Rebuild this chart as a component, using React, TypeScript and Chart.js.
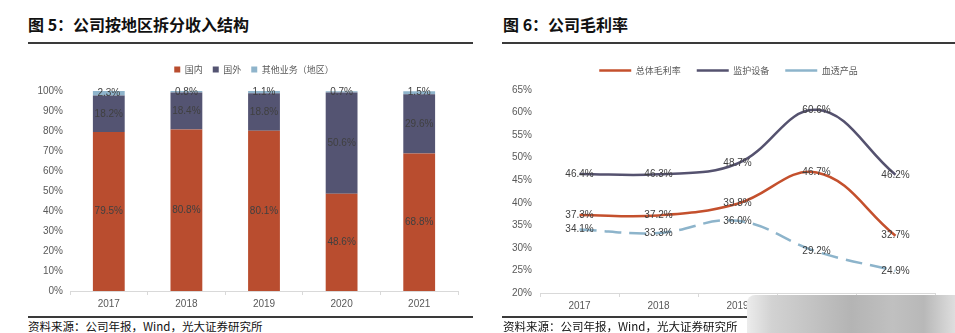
import React, { useEffect, useRef } from "react";
import { Chart, registerables } from "chart.js";

Chart.register(...registerables);

// ---------- Data ----------
const years = ["2017", "2018", "2019", "2020", "2021"];

const revenueSeriesNames = ["国内", "国外", "其他业务（地区）"];
const domestic = [79.5, 80.8, 80.1, 48.6, 68.8];
const overseas = [18.2, 18.4, 18.8, 50.6, 29.6];
const otherBiz = [2.3, 0.8, 1.1, 0.7, 1.5];
const revenueAxis = { min: 0, max: 100, step: 10 };

const marginSeriesNames = ["总体毛利率", "监护设备", "血透产品"];
const grossMargin = [37.3, 37.2, 39.8, 46.7, 32.7];
const monitoring = [46.4, 46.3, 48.7, 60.6, 46.2];
const dialysis = [34.1, 33.3, 36.0, 29.2, 24.9];
const marginAxis = { min: 20, max: 65, step: 5 };

const titleLeft = "图 5：公司按地区拆分收入结构";
const titleRight = "图 6：公司毛利率";
const sourceText = "资料来源：公司年报，Wind，光大证券研究所";

// ---------- Styles ----------
const FAMILY = '"Liberation Sans", Arial, "Noto Sans CJK SC", sans-serif';
const CJK = '"Noto Sans CJK SC", "Liberation Sans", sans-serif';
const TICK = "#595959";
const AXIS = "#d9d9d9";
const LABEL = "#404040";

const C_DOM = "#B94D2F";
const C_OVS = "#545472";
const C_OTH = "#8FB4CB";
const C_GM = "#C4502D";
const C_MON = "#55526F";
const C_DIA = "#8DB4CB";

const valueLabels = {
  id: "valueLabels",
  afterDatasetsDraw(chart: any) {
    const ctx = chart.ctx;
    ctx.save();
    ctx.font = `10px ${FAMILY}`;
    ctx.fillStyle = LABEL;
    ctx.textAlign = "center";
    ctx.textBaseline = "middle";
    const isBar = chart.config.type === "bar";
    chart.data.datasets.forEach((ds: any, i: number) => {
      const meta = chart.getDatasetMeta(i);
      meta.data.forEach((el: any, j: number) => {
        const v = ds.data[j];
        const y = isBar ? (el.y + el.base) / 2 : el.y;
        ctx.fillText(v.toFixed(1) + "%", el.x, y);
      });
    });
    ctx.restore();
  },
};

// adds space below the legend and nudges it horizontally
const legendTweak = (gap: number, dx: number) => ({
  id: "legendTweak",
  beforeInit(chart: any) {
    const lg = chart.legend;
    if (!lg) return;
    const origFit = lg.fit;
    lg.fit = function () {
      origFit.call(this);
      this.height += gap;
    };
    const origDraw = lg.draw;
    lg.draw = function (...args: any[]) {
      const ctx = this.ctx;
      ctx.save();
      ctx.translate(dx, 0);
      origDraw.apply(this, args);
      ctx.restore();
    };
  },
});

function BarChart() {
  const ref = useRef<HTMLCanvasElement>(null);
  useEffect(() => {
    const chart = new Chart(ref.current as HTMLCanvasElement, {
      type: "bar",
      data: {
        labels: years,
        datasets: [
          { label: revenueSeriesNames[0], data: domestic, backgroundColor: C_DOM },
          { label: revenueSeriesNames[1], data: overseas, backgroundColor: C_OVS },
          { label: revenueSeriesNames[2], data: otherBiz, backgroundColor: C_OTH },
        ],
      },
      options: {
        animation: false,
        responsive: false,
        layout: { padding: { left: 0, right: 15, top: 0, bottom: 0 } },
        datasets: { bar: { categoryPercentage: 1, barPercentage: 0.41 } } as any,
        plugins: {
          legend: {
            position: "top",
            labels: {
              boxWidth: 6,
              boxHeight: 6,
              padding: 10,
              color: TICK,
              font: { size: 9, family: CJK },
            },
          },
          tooltip: { enabled: false },
        },
        scales: {
          x: {
            stacked: true,
            grid: { drawOnChartArea: false, drawTicks: true, tickLength: 4, color: AXIS, offset: true },
            border: { color: AXIS },
            ticks: { color: TICK, font: { size: 10, family: FAMILY }, padding: 3 },
            afterFit: (s: any) => {
              s.height = 23;
            },
          },
          y: {
            stacked: true,
            min: revenueAxis.min,
            max: revenueAxis.max,
            ticks: {
              stepSize: revenueAxis.step,
              color: TICK,
              font: { size: 10, family: FAMILY },
              padding: 7,
              callback: (v: any) => v + "%",
            },
            grid: { display: false, drawTicks: false },
            border: { display: false },
            afterFit: (s: any) => {
              s.width = 42;
            },
          },
        },
      },
      plugins: [valueLabels, legendTweak(7, 11)],
    } as any);
    return () => chart.destroy();
  }, []);
  return <canvas ref={ref} width={445} height={259} style={{ position: "absolute", left: 28, top: 55 }} />;
}

function LineChart() {
  const ref = useRef<HTMLCanvasElement>(null);
  useEffect(() => {
    const common = { pointRadius: 0, borderWidth: 2.5, tension: 0.4, fill: false };
    const chart = new Chart(ref.current as HTMLCanvasElement, {
      type: "line",
      data: {
        labels: years,
        datasets: [
          { label: marginSeriesNames[0], data: grossMargin, borderColor: C_GM, backgroundColor: C_GM, ...common },
          { label: marginSeriesNames[1], data: monitoring, borderColor: C_MON, backgroundColor: C_MON, ...common },
          { label: marginSeriesNames[2], data: dialysis, borderColor: C_DIA, backgroundColor: C_DIA, borderDash: [17, 8], ...common },
        ],
      },
      options: {
        animation: false,
        responsive: false,
        layout: { padding: { left: 0, right: 20, top: 0, bottom: 0 } },
        plugins: {
          legend: {
            position: "top",
            labels: {
              usePointStyle: true,
              pointStyle: "line",
              pointStyleWidth: 32,
              padding: 16,
              color: TICK,
              font: { size: 9, family: CJK },
            },
          },
          tooltip: { enabled: false },
        },
        scales: {
          x: {
            offset: true,
            grid: { drawOnChartArea: false, drawTicks: true, tickLength: 4, color: AXIS, offset: true },
            border: { color: AXIS },
            ticks: { color: TICK, font: { size: 10, family: FAMILY }, padding: 3 },
            afterFit: (s: any) => {
              s.height = 23;
            },
          },
          y: {
            min: marginAxis.min,
            max: marginAxis.max,
            ticks: {
              stepSize: marginAxis.step,
              color: TICK,
              font: { size: 10, family: FAMILY },
              padding: 8,
              callback: (v: any) => v + "%",
            },
            grid: { display: false, drawTicks: false },
            border: { display: false },
            afterFit: (s: any) => {
              s.width = 38;
            },
          },
        },
      },
      plugins: [valueLabels, legendTweak(5, 10)],
    } as any);
    return () => chart.destroy();
  }, []);
  return <canvas ref={ref} width={453} height={266} style={{ position: "absolute", left: 502, top: 50 }} />;
}

const titleStyle = (left: number): React.CSSProperties => ({
  position: "absolute",
  left,
  top: 15,
  fontFamily: CJK,
  fontWeight: 700,
  fontSize: 16,
  lineHeight: "18px",
  color: "#111",
  whiteSpace: "nowrap",
});

const sourceStyle = (left: number): React.CSSProperties => ({
  position: "absolute",
  left,
  top: 319,
  fontFamily: CJK,
  fontSize: 11.5,
  lineHeight: "14px",
  color: "#111",
  whiteSpace: "nowrap",
});

const rule = (left: number, top: number, width: number, h: number): React.CSSProperties => ({
  position: "absolute",
  left,
  top,
  width,
  height: h,
  background: "#3a3a3a",
});

export default function App() {
  useEffect(() => {
    document.body.style.margin = "0";
  }, []);
  return (
    <div
      style={{
        position: "fixed",
        left: 0,
        top: 0,
        width: 955,
        height: 333,
        background: "#fff",
        overflow: "hidden",
      }}
    >
      <div style={titleStyle(28)}>{titleLeft}</div>
      <div style={titleStyle(503)}>{titleRight}</div>
      <div style={rule(28, 42, 445, 2)} />
      <div style={rule(502, 42, 453, 2)} />
      <BarChart />
      <LineChart />
      <div style={rule(28, 316, 445, 1.5)} />
      <div style={rule(502, 316, 453, 1.5)} />
      <div style={sourceStyle(28)}>{sourceText}</div>
      <div style={sourceStyle(503)}>{sourceText}</div>
      <div
        style={{
          position: "absolute",
          left: 747,
          top: 295,
          width: 208,
          height: 38,
          borderTopLeftRadius: 8,
          background:
            "linear-gradient(90deg, #ececec 0%, #d2d2d2 12%, #c4c4c4 30%, #b4b4b4 50%, #c0c0c0 70%, #b8b8b8 85%, #dedede 100%)",
        }}
      />
    </div>
  );
}
